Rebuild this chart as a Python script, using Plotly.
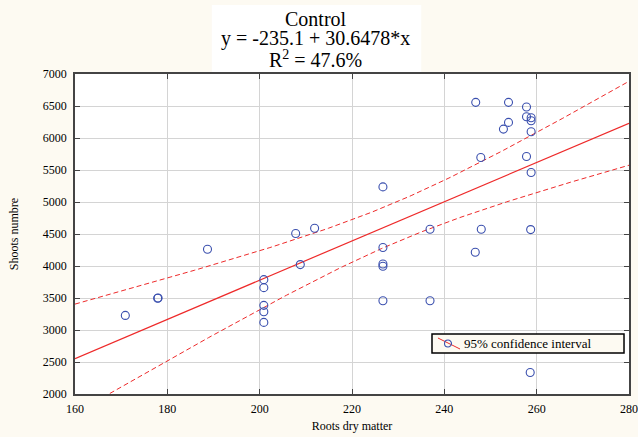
import numpy as np
import plotly.graph_objects as go

# ---- data ----
roots_dry_matter = [170.9, 177.9, 178.0, 188.7,
                    200.9, 200.9, 200.9, 200.9, 200.9,
                    207.8, 211.9, 208.8,
                    226.7, 226.7, 226.7, 226.7, 226.7,
                    236.9, 236.9,
                    246.8, 253.9, 257.8, 257.8, 258.8, 258.8, 253.9, 252.8,
                    258.8, 247.9, 257.8, 258.8, 258.7, 246.7, 248.0, 258.6]
shoots_number = [3228, 3495, 3500, 4261,
                 3787, 3662, 3385, 3286, 3119,
                 4507, 4590, 4022,
                 5236, 4288, 4032, 3995, 3458,
                 4574, 3458,
                 6557, 6557, 6484, 6332, 6317, 6270, 6244, 6139,
                 6097, 5696, 5712, 5461, 4569, 4214, 4574, 2336]

INTERCEPT = -2351.0
SLOPE = 30.6478
T_CRIT = 2.032  # t(0.975, df = n-2)

x_ticks = [160, 180, 200, 220, 240, 260, 280]
y_ticks = [2000, 2500, 3000, 3500, 4000, 4500, 5000, 5500, 6000, 6500, 7000]

title_lines = ["Control", "y = -235.1 + 30.6478*x", "R<sup>2</sup> = 47.6%"]
legend_label = "95% confidence interval"

# ---- regression line and confidence band ----
x = np.array(roots_dry_matter)
y = np.array(shoots_number)
n = len(x)
xbar = x.mean()
sxx = ((x - xbar) ** 2).sum()
resid = y - (INTERCEPT + SLOPE * x)
s = np.sqrt((resid ** 2).sum() / (n - 2))

xs = np.linspace(x_ticks[0], x_ticks[-1], 200)
yfit = INTERCEPT + SLOPE * xs
half = T_CRIT * s * np.sqrt(1.0 / n + (xs - xbar) ** 2 / sxx)

RED = "#ee2a2a"
BLUE = "#3a4fae"
SERIF = "Liberation Serif"
CREAM = "#fdfaf2"

fig = go.Figure()
fig.add_trace(go.Scatter(x=xs, y=yfit + half, mode="lines",
                         line=dict(color=RED, width=1, dash="5px,3px"),
                         showlegend=False, hoverinfo="skip"))
fig.add_trace(go.Scatter(x=xs, y=yfit - half, mode="lines",
                         line=dict(color=RED, width=1, dash="5px,3px"),
                         showlegend=False, hoverinfo="skip"))
fig.add_trace(go.Scatter(x=xs, y=yfit, mode="lines",
                         line=dict(color=RED, width=1.2),
                         showlegend=False, hoverinfo="skip"))
fig.add_trace(go.Scatter(x=roots_dry_matter, y=shoots_number, mode="markers",
                         marker=dict(symbol="circle-open", size=8,
                                     color=BLUE, line=dict(width=1.1, color=BLUE)),
                         showlegend=False))

# title box + lines
fig.add_shape(type="rect", xref="paper", yref="paper",
              x0=0.247, x1=0.625, y0=1.006, y1=1.216,
              fillcolor="white", line=dict(width=0), layer="below")
title_y = [1.172, 1.110, 1.047]
for txt, ty in zip(title_lines, title_y):
    fig.add_annotation(text=txt, xref="paper", yref="paper", x=0.435, y=ty,
                       xanchor="center", yanchor="middle", showarrow=False,
                       font=dict(family=SERIF, size=20, color="black"))

# legend box (drawn like the reference's legend)
fig.add_shape(type="rect", xref="paper", yref="paper",
              x0=0.6444, x1=0.991, y0=0.128, y1=0.1875,
              fillcolor=CREAM, line=dict(color="black", width=1.5))
fig.add_shape(type="line", xref="paper", yref="paper",
              x0=0.6552, x1=0.695, y0=0.175, y1=0.1406,
              line=dict(color=RED, width=1))
fig.add_shape(type="circle", xref="paper", yref="paper",
              xsizemode="pixel", ysizemode="pixel",
              xanchor=0.6733, yanchor=0.1578, x0=-3.5, x1=3.5, y0=-3.5, y1=3.5,
              line=dict(color=BLUE, width=1.1))
fig.add_annotation(text=legend_label, xref="paper", yref="paper",
                   x=0.6986, y=0.1578, xanchor="left", yanchor="middle",
                   showarrow=False, font=dict(family=SERIF, size=13, color="black"))

fig.update_layout(
    width=638, height=437,
    margin=dict(l=75, r=9, t=74, b=43, autoexpand=False),
    paper_bgcolor=CREAM,
    plot_bgcolor="white",
    font=dict(family=SERIF, size=12, color="black"),
    showlegend=False,
)
fig.update_xaxes(range=[160, 280], tickvals=x_ticks,
                 ticktext=[str(v) for v in x_ticks], automargin=False,
                 showgrid=True, gridcolor="#d4d4d4", gridwidth=1,
                 showline=True, linecolor="#444", linewidth=1.5, mirror="ticks",
                 ticks="inside", ticklen=5, tickcolor="#444",
                 ticklabelstandoff=3, zeroline=False,
                 title=dict(text="Roots dry matter", font=dict(family=SERIF, size=12), standoff=6))
fig.update_yaxes(range=[2000, 7000], tickvals=y_ticks,
                 ticktext=[str(v) for v in y_ticks], automargin=False,
                 showgrid=True, gridcolor="#d4d4d4", gridwidth=1,
                 showline=True, linecolor="#444", linewidth=1.5, mirror="ticks",
                 ticks="inside", ticklen=5, tickcolor="#444",
                 ticklabelstandoff=4, zeroline=False,
                 title=dict(text="Shoots numbre", font=dict(family=SERIF, size=12), standoff=22))

fig.write_html("out.html",
               config={"displayModeBar": False},
               post_script="document.body.style.margin='0';"
                           "document.body.style.overflow='hidden';"
                           "document.body.style.background='" + CREAM + "';")
